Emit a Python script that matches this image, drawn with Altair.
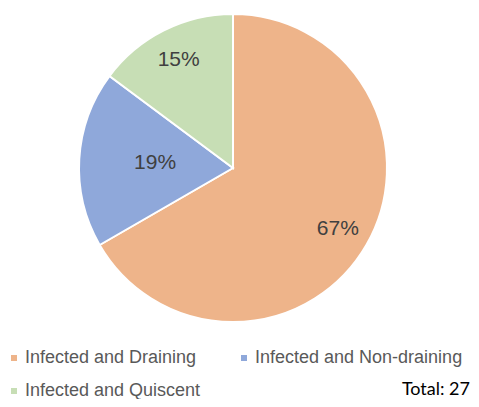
import altair as alt
import pandas as pd

categories = ["Infected and Draining", "Infected and Non-draining", "Infected and Quiscent"]
counts = [18, 5, 4]
colors = ["#EEB48A", "#8FA8DA", "#C7DEB5"]
total_label = "Total: 27"

df = pd.DataFrame({"cat": categories, "n": counts, "ord": [0, 1, 2]})

cx, cy, R = 225, 160, 154

base = (
    alt.Chart(df)
    .transform_joinaggregate(tot="sum(n)")
    .transform_window(cum="sum(n)", sort=[alt.SortField("ord")], frame=[None, 0])
    .transform_calculate(
        pct="datum.n / datum.tot",
        mid="(datum.cum - datum.n / 2) / datum.tot * 2 * PI",
        lr="datum.cat == 'Infected and Non-draining' ? 78 : 121",
    )
)

color = alt.Color(
    "cat:N",
    scale=alt.Scale(domain=categories, range=colors),
    sort=categories,
    legend=alt.Legend(
        title=None,
        orient="none",
        legendX=-3,
        legendY=341,
        padding=0,
        direction="horizontal",
        columns=2,
        columnPadding=34,
        rowPadding=15,
        symbolType="square",
        symbolSize=36,
        symbolStrokeWidth=0,
        labelFont="Liberation Sans",
        labelFontSize=18,
        labelColor="#595959",
        labelOffset=2,
        labelLimit=300,
    ),
)

arcs = base.mark_arc(outerRadius=R, stroke="white", strokeWidth=2).encode(
    theta=alt.Theta("n:Q", stack=True),
    order=alt.Order("ord:Q"),
    color=color,
    x=alt.value(cx),
    y=alt.value(cy),
)

labels = base.mark_text(
    font="Liberation Sans", fontSize=21, color="#404040", align="center", baseline="middle"
).encode(
    theta=alt.Theta("mid:Q", scale=None),
    radius=alt.Radius("lr:Q", scale=None),
    text=alt.Text("pct:Q", format=".0%"),
    x=alt.value(cx),
    y=alt.value(cy),
)

total = alt.Chart(pd.DataFrame({"t": [total_label]})).mark_text(
    font="Lato", fontSize=18, color="#000000", align="right", baseline="middle"
).encode(text="t:N", x=alt.value(462), y=alt.value(382))

chart = alt.layer(arcs, labels, total).properties(
    width=463, height=391, autosize=alt.AutoSizeParams(type="none"), padding=0
).configure_view(stroke=None)

chart.save("out.html", embed_options={"renderer": "svg", "actions": False})
